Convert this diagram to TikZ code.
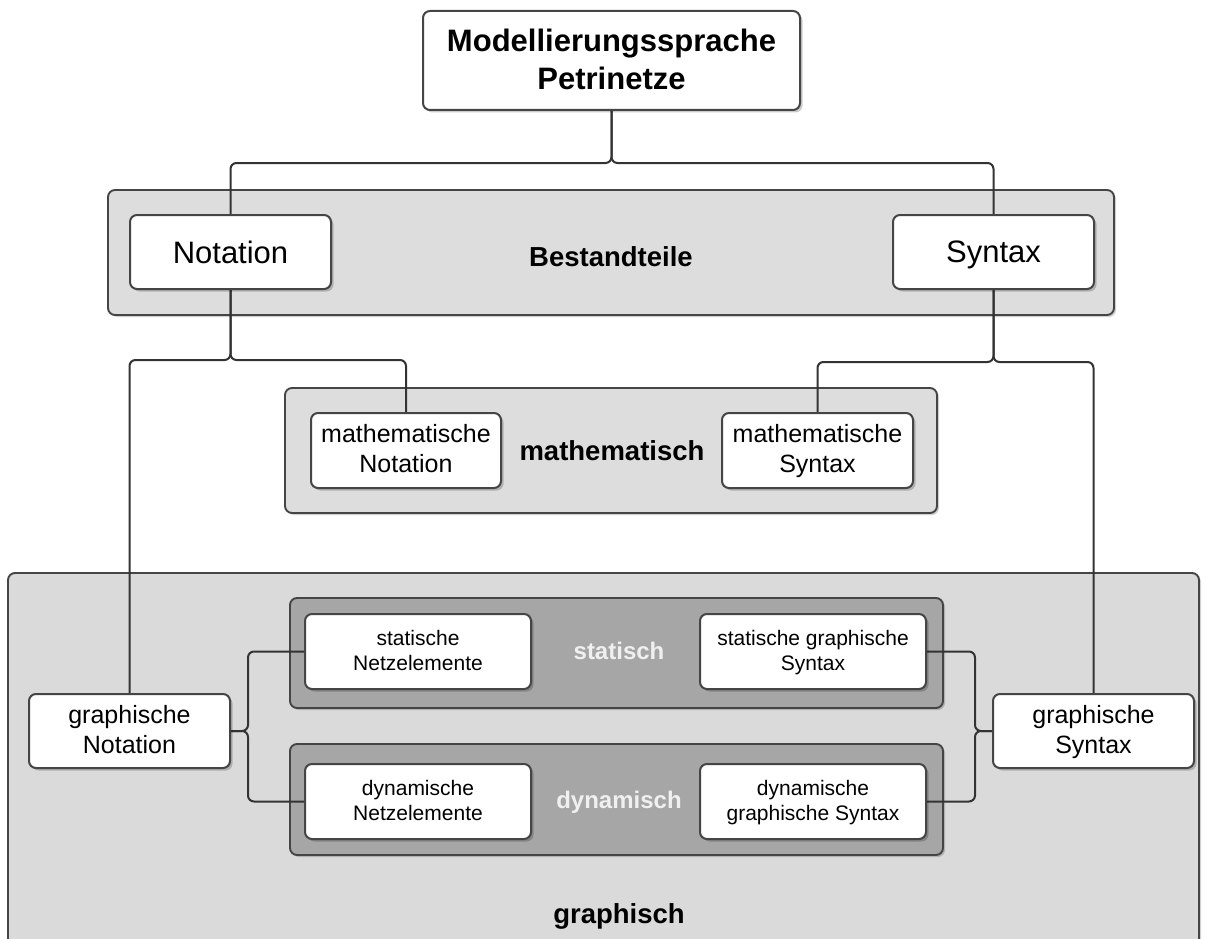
\documentclass[tikz,border=0pt]{standalone}
\usepackage{fontspec}
\setmainfont{Liberation Sans}
\usetikzlibrary{shadows}
\definecolor{bordc}{HTML}{454545}
\definecolor{connc}{HTML}{333333}
\definecolor{lightc}{HTML}{DDDDDD}
\definecolor{graphc}{HTML}{DADADA}
\definecolor{darkc}{HTML}{A6A6A6}
\newcommand{\hsA}{\rule{0pt}{26pt}}
\newcommand{\dsA}{\rule[-5.5pt]{0pt}{5.5pt}}
\newcommand{\hsB}{\rule{0pt}{20pt}}
\newcommand{\dsB}{\rule[-5.5pt]{0pt}{5.5pt}}
\newcommand{\hsC}{\rule{0pt}{17pt}}
\newcommand{\dsC}{\rule[-4.5pt]{0pt}{4.5pt}}
\tikzset{
  container/.style={draw=bordc, line width=1.9pt, rounded corners=7pt, fill=lightc,
    drop shadow={shadow xshift=2pt, shadow yshift=-2pt, opacity=0.18, fill=black}},
  darkcont/.style={draw=bordc, line width=1.9pt, rounded corners=7pt, fill=darkc,
    drop shadow={shadow xshift=2pt, shadow yshift=-2pt, opacity=0.18, fill=black}},
  wbox/.style={draw=bordc, line width=2pt, rounded corners=7pt, fill=white,
    inner sep=0pt, outer sep=0pt, align=center,
    drop shadow={shadow xshift=2.5pt, shadow yshift=-2.5pt, opacity=0.2, fill=black}},
  conn/.style={draw=connc, line width=2pt, rounded corners=6pt},
  fbig/.style={font=\fontsize{31}{37.5}\selectfont},
  fmid/.style={font=\fontsize{25}{30}\selectfont},
  fsmall/.style={font=\fontsize{21}{25.5}\selectfont},
  grouplabel/.style={anchor=base, inner sep=0pt, font=\bfseries\fontsize{27.5}{33}\selectfont},
  whitelabel/.style={anchor=base, inner sep=0pt, text=white!94!black, font=\bfseries\fontsize{24}{29}\selectfont}
}
\begin{document}
\begin{tikzpicture}[x=1pt, y=-1pt]
\useasboundingbox (0,0) rectangle (1207,939);
\fill[white] (0,0) rectangle (1207,939);
\begin{scope}
\clip (0,0) rectangle (1207,939);
% containers
\path[container] (108,190) rectangle (1114,315);
\path[container] (285,388) rectangle (937,513);
\path[container, fill=graphc] (8,573) rectangle (1199,1010);
\path[darkcont] (290,598) rectangle (943,708);
\path[darkcont] (290,744) rectangle (943,855);
\end{scope}
% group labels
\node[grouplabel] (lbest) at (611,266) {Bestandteile};
\node[grouplabel] (lmath) at (612,460) {mathematisch};
\node[grouplabel] (lgraph) at (619,923) {graphisch};
\node[whitelabel] (lstat) at (619,659) {statisch};
\node[whitelabel] (ldyn) at (619,808) {dynamisch};
% junction coordinates
\coordinate (j1) at (611.5,163);
\coordinate (j2) at (230.5,360);
\coordinate (j3) at (993.5,362);
\coordinate (j4) at (248,731);
\coordinate (j5) at (975,731);
% box centres
\path (611.5,60.5) coordinate (ptop)
      (230.5,252) coordinate (pnot)
      (993.5,252) coordinate (psyn)
      (406,450.5) coordinate (pmnot)
      (817.5,450.5) coordinate (pmsyn)
      (129.5,731) coordinate (pgnot)
      (1093.5,731) coordinate (pgsyn)
      (418,651.5) coordinate (psnet)
      (813,651.5) coordinate (pssyn)
      (418,801.5) coordinate (pdnet)
      (813,801.5) coordinate (pdsyn);
% invisible anchors for connectors
\begin{scope}[every node/.style={inner sep=0pt, outer sep=0pt}]
\node[minimum width=377pt, minimum height=99pt] (top) at (ptop) {};
\node[minimum width=201pt, minimum height=74pt] (notation) at (pnot) {};
\node[minimum width=201pt, minimum height=74pt] (syntax) at (psyn) {};
\node[minimum width=190pt, minimum height=75pt] (mnot) at (pmnot) {};
\node[minimum width=191pt, minimum height=75pt] (msyn) at (pmsyn) {};
\node[minimum width=201pt, minimum height=74pt] (gnot) at (pgnot) {};
\node[minimum width=201pt, minimum height=74pt] (gsyn) at (pgsyn) {};
\node[minimum width=226pt, minimum height=75pt] (snet) at (psnet) {};
\node[minimum width=226pt, minimum height=75pt] (ssyn) at (pssyn) {};
\node[minimum width=226pt, minimum height=75pt] (dnet) at (pdnet) {};
\node[minimum width=226pt, minimum height=75pt] (dsyn) at (pdsyn) {};
\end{scope}
% connectors
\draw[conn] (top.south) -- (j1) -| (notation.north);
\draw[conn] (top.south) -- (j1) -| (syntax.north);
\draw[conn] (notation.south) -- (j2) -| (gnot.north);
\draw[conn] (notation.south) -- (j2) -| (mnot.north);
\draw[conn] (syntax.south) -- (j3) -| (msyn.north);
\draw[conn] (syntax.south) -- (j3) -| (gsyn.north);
\draw[conn] (gnot.east) -- (j4) |- (snet.west);
\draw[conn] (gnot.east) -- (j4) |- (dnet.west);
\draw[conn] (ssyn.east) -| (j5) -- (gsyn.west);
\draw[conn] (dsyn.east) -| (j5) -- (gsyn.west);
% visible boxes
\node[wbox, fbig, minimum width=377pt, minimum height=99pt] (topbox) at (ptop) {\hsA\bfseries Modellierungssprache\\\bfseries Petrinetze\dsA};
\node[wbox, fbig, text depth=0pt, minimum width=201pt, minimum height=74pt] (notbox) at (pnot) {Notation};
\node[wbox, fbig, text depth=0pt, minimum width=201pt, minimum height=74pt] (synbox) at (psyn) {Syntax};
\node[wbox, fmid, minimum width=190pt, minimum height=75pt] (mnotbox) at (pmnot) {\hsB mathematische\\Notation\dsB};
\node[wbox, fmid, minimum width=191pt, minimum height=75pt] (msynbox) at (pmsyn) {\hsB mathematische\\Syntax\dsB};
\node[wbox, fmid, minimum width=201pt, minimum height=74pt] (gnotbox) at (pgnot) {\hsB graphische\\Notation\dsB};
\node[wbox, fmid, minimum width=201pt, minimum height=74pt] (gsynbox) at (pgsyn) {\hsB graphische\\Syntax\dsB};
\node[wbox, fsmall, minimum width=226pt, minimum height=75pt] (snetbox) at (psnet) {\hsC statische\\Netzelemente\dsC};
\node[wbox, fsmall, minimum width=226pt, minimum height=75pt] (ssynbox) at (pssyn) {\hsC statische graphische\\Syntax\dsC};
\node[wbox, fsmall, minimum width=226pt, minimum height=75pt] (dnetbox) at (pdnet) {\hsC dynamische\\Netzelemente\dsC};
\node[wbox, fsmall, minimum width=226pt, minimum height=75pt] (dsynbox) at (pdsyn) {\hsC dynamische\\graphische Syntax\dsC};
\end{tikzpicture}
\end{document}
